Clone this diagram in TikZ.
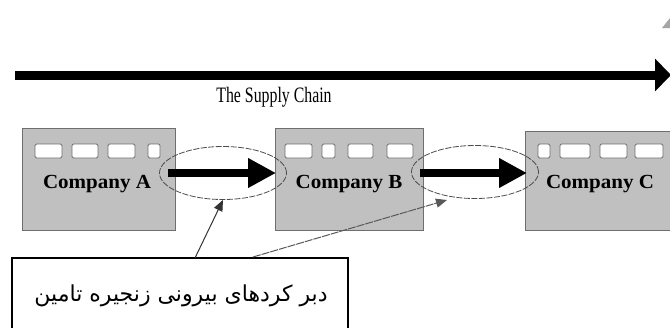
\documentclass[tikz,border=0pt]{standalone}
\usepackage{fontspec}
\setmainfont{Liberation Serif}
\newfontfamily\arabicfont[Script=Arabic]{DejaVu Sans}
\TeXXeTstate=1
\usetikzlibrary{arrows.meta,shapes.geometric}
\definecolor{boxgray}{HTML}{C0C0C0}
\definecolor{edgegray}{HTML}{6E6E6E}
\tikzset{
  company/.style={draw=edgegray, fill=boxgray, line width=1pt},
  win/.style={draw=edgegray, fill=white, line width=0.9pt, rounded corners=1.5pt},
  bigarrow/.style={line width=9pt, -{Triangle[length=16pt,width=32pt]}},
  flowarrow/.style={line width=8pt, -{Triangle[length=28pt,width=28pt]}},
  ring/.style={ellipse, draw=black!70, dashed, dash pattern=on 6pt off 1.5pt, line width=0.8pt, minimum width=127pt, minimum height=53pt, inner sep=0pt},
  pointer/.style={line width=1pt, draw=black!80, -{Triangle[length=11pt,width=9pt]}},
  complabel/.style={font=\bfseries\fontsize{20}{24}\selectfont, inner sep=0pt, xscale=1.05},
}
\begin{document}
\begin{tikzpicture}[x=1pt,y=-1pt]
\useasboundingbox (0,0) rectangle (670,327);
\fill[white] (0,0) rectangle (670,327);
% corner artifact
\fill[black!35] (670,18) -- (670,28) -- (662,28) -- cycle;
% main supply chain arrow
\coordinate (mainS) at (15,75);
\coordinate (mainE) at (671,75);
\draw[bigarrow] (mainS) -- (mainE);
\node[font=\fontsize{22}{26}\selectfont, inner sep=0pt, xscale=0.72] (title) at (274,97) {The Supply Chain};
% companies
\draw[company] (22,128) rectangle (175,230);
\draw[company] (275,128) rectangle (423,230);
\draw[company] (525,131) rectangle (690,230);
\coordinate (Aright) at (168,173);
\coordinate (Bleft) at (276,173);
\coordinate (Bright) at (420,173);
\coordinate (Cleft) at (527,173);
% windows
\foreach \a/\b in {35/62,72/98,108/135,148/160,285/312,322/335,348/373,387/413,538/550,560/590,600/627,635/663}
  \draw[win] (\a,144) rectangle (\b,158);
\node[complabel] (A) at (97,184) {Company A};
\node[complabel] (B) at (349,184) {Company B};
\node[complabel] (C) at (600,184) {Company C};
% rings
\node[ring] (r1) at (223,173) {};
\node[ring] (r2) at (475,172) {};
% flow arrows
\draw[flowarrow] (Aright) -- (Bleft);
\draw[flowarrow] (Bright) -- (Cleft);
% label box
\draw[black, line width=1.3pt] (12,258) rectangle (348,340);
\node[font=\arabicfont\fontsize{22}{26}\selectfont, inner sep=0pt] (lbl) at (181,296) {\beginR دبر کردهای بیرونی زنجیره تامین\endR};
\coordinate (p1s) at (195,258);
\coordinate (p2s) at (253,257);
\coordinate (p2e) at (447,200);
\draw[pointer] (p1s) -- (r1.south);
\draw[pointer, draw=black!65, dash pattern=on 8pt off 1pt] (p2s) -- (p2e);
\end{tikzpicture}
\end{document}
